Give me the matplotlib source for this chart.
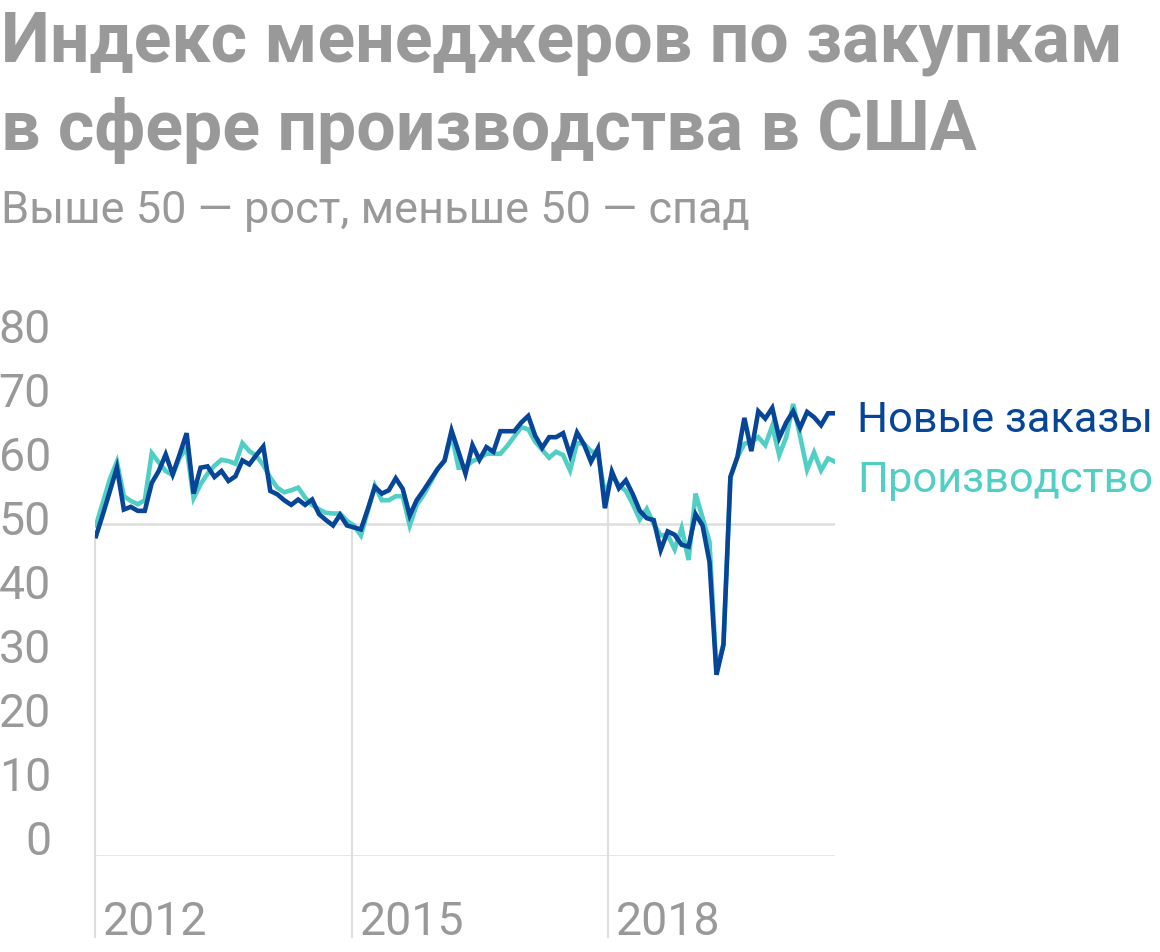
import numpy as np
import matplotlib
matplotlib.use('Agg')
import matplotlib.pyplot as plt

plt.rcParams['font.family'] = ['Roboto', 'DejaVu Sans']

# monthly readings, Nov 2012 .. Sep 2021 (107 months)
new_orders = [48.2, 51.5, 55.0, 58.5, 52.2, 52.6, 52.0, 52.0, 56.2, 58.0,
              60.5, 57.5, 60.5, 63.7, 54.6, 58.5, 58.7, 57.1, 58.0, 56.5,
              57.2, 59.6, 59.0, 60.4, 61.7, 55.0, 54.5, 53.6, 52.9, 53.7,
              52.9, 53.7, 51.5, 50.6, 49.8, 51.4, 49.8, 49.5, 49.2, 52.3,
              55.6, 54.6, 55.1, 56.9, 55.3, 51.3, 53.6, 55.1, 56.7, 58.3,
              59.6, 64.1, 60.9, 57.6, 61.9, 59.7, 61.6, 60.9, 64.0, 64.0,
              64.0, 65.3, 66.3, 63.3, 61.5, 63.1, 63.1, 63.7, 60.4, 63.8,
              62.0, 59.4, 61.4, 52.4, 57.9, 55.4, 56.6, 54.5, 52.0, 50.9,
              50.6, 46.1, 48.9, 48.4, 46.9, 46.6, 51.5, 49.8, 44.3, 27.3,
              31.8, 57.1, 60.1, 66.0, 61.0, 67.0, 65.9, 67.5, 63.0, 65.3,
              67.0, 64.5, 66.9, 66.1, 64.9, 66.7, 66.7]
production = [49.8, 53.3, 56.8, 59.4, 54.2, 53.5, 53.0, 53.6, 60.7, 59.3,
              58.0, 57.4, 60.0, 61.5, 53.9, 56.0, 57.6, 58.8, 59.7, 59.5,
              59.1, 62.2, 61.0, 60.3, 58.9, 57.0, 55.5, 54.8, 55.1, 55.5,
              54.0, 52.9, 52.2, 51.7, 51.6, 51.6, 50.5, 49.8, 48.3, 52.0,
              55.8, 53.6, 53.6, 54.2, 54.2, 49.8, 52.9, 54.4, 56.3, 58.3,
              59.5, 63.5, 58.5, 58.6, 59.5, 59.9, 60.6, 60.6, 60.6, 61.8,
              63.2, 64.6, 64.3, 62.4, 61.2, 60.0, 60.9, 60.4, 58.1, 62.2,
              62.1, 61.0, 60.6, 54.5, 57.3, 55.9, 55.0, 53.0, 50.7, 52.3,
              50.0, 48.3, 48.4, 46.2, 49.4, 44.6, 54.6, 51.0, 47.3, 27.7,
              32.0, 57.1, 60.1, 62.1, 62.4, 63.1, 61.9, 64.8, 60.4, 63.1,
              68.1, 63.2, 58.2, 60.8, 58.1, 59.9, 59.4]
year_labels = ['2012', '2015', '2018']
y_ticks = [0, 10, 20, 30, 40, 50, 60, 70, 80]

NAVY = '#064597'
TEAL = '#52cfc4'
GREY = '#999999'
LINE = '#dedede'

W, H = 1160, 952
fig = plt.figure(figsize=(W / 100, H / 100), dpi=100)

def fx(px):
    return px / W

def fy(py):
    return 1 - py / H

ax = fig.add_axes([fx(95), fy(856), fx(835) - fx(95), fy(325) - fy(856)])
months = np.arange(len(new_orders))
ax.set_xlim(-0.14, 106.0)
ax.set_ylim(0, 80)
ax.axis('off')

# horizontal guide lines at 0 and 50
for v in (0, 50):
    ax.plot([-0.14, 106.0], [v, v], color=LINE, lw=1.8, zorder=1, solid_capstyle='butt')

# year gridlines run from below the axis up to the line
grid_x = [-0.14, 36.7, 73.5]
for gx, lab in zip(grid_x, year_labels):
    top = np.interp(gx, months, new_orders)
    ax.plot([gx, gx], [-12.2, top], color=LINE, lw=1.5, zorder=1, clip_on=False)
    ax.text(gx + 1.1, -11.9, lab, fontsize=33.5, color=GREY, ha='left', va='baseline')

ax.plot(months, production, color=TEAL, lw=3.3, zorder=3, solid_joinstyle='miter')
ax.plot(months, new_orders, color=NAVY, lw=3.3, zorder=4, solid_joinstyle='miter')

# y labels (spaced a little tighter than the scale, like the source)
for v in y_ticks:
    fig.text(fx(51), fy(842 - 6.4 * v), str(v), fontsize=33.5, color=GREY,
             ha='right', va='center')

fig.text(fx(857), fy(432), 'Новые заказы', fontsize=31.2, color=NAVY, ha='left', va='baseline')
fig.text(fx(857), fy(492), 'Производство', fontsize=31.2, color=TEAL, ha='left', va='baseline')

fig.text(fx(1), fy(62), 'Индекс менеджеров по закупкам', fontsize=50.2, color=GREY,
         fontweight='bold', ha='left', va='baseline')
fig.text(fx(1), fy(150), 'в сфере производства в США', fontsize=50.2, color=GREY,
         fontweight='bold', ha='left', va='baseline')
fig.text(fx(1), fy(223), 'Выше 50 — рост, меньше 50 — спад', fontsize=32.5, color=GREY,
         ha='left', va='baseline')

fig.savefig('out.png', dpi=100, facecolor='white')
